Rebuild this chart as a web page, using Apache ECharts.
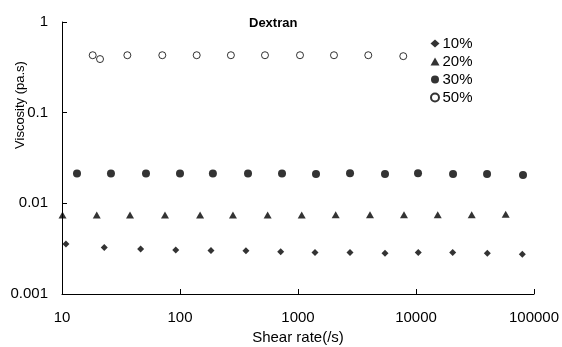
<!DOCTYPE html>
<html>
<head>
<meta charset="utf-8">
<script src="https://cdn.jsdelivr.net/npm/echarts@6/dist/echarts.min.js"></script>
<style>
  html, body { margin: 0; padding: 0; background: #fff; }
  #chart { width: 562px; height: 347px; }
</style>
</head>
<body>
<div id="chart"></div>
<script>
// Data
const seriesNames = ['10%', '20%', '30%', '50%'];

const shearRate10 = [10.8, 22.8, 46.4, 92, 183, 362, 713, 1393, 2760, 5460, 10450, 20470, 40200, 79600];
const visc10 = [0.00357, 0.00325, 0.00314, 0.00306, 0.00301, 0.00299, 0.00293, 0.00286, 0.00286, 0.00282, 0.00286, 0.00286, 0.00282, 0.00275];

const shearRate20 = [10.1, 19.7, 37.7, 74.6, 148, 281, 553, 1075, 2086, 4075, 7910, 15280, 29650, 57550];
const visc20 = [0.00745, 0.00745, 0.00745, 0.00745, 0.00745, 0.00745, 0.00745, 0.00745, 0.0075, 0.0075, 0.0075, 0.0075, 0.0075, 0.0076];

const shearRate30 = [13.4, 26.0, 51.5, 100, 190, 377, 732, 1421, 2760, 5460, 10400, 20600, 40000, 80700];
const visc30 = [0.0213, 0.0213, 0.0213, 0.0213, 0.0213, 0.0213, 0.0213, 0.0211, 0.0215, 0.0211, 0.0215, 0.0211, 0.0211, 0.0206];

const shearRate50 = [18.2, 21.0, 35.8, 70.8, 138.5, 270, 525, 1040, 2018, 3940, 7800];
const visc50 = [0.43, 0.39, 0.43, 0.43, 0.43, 0.43, 0.43, 0.43, 0.43, 0.43, 0.42];

const xTickLabels = ['10', '100', '1000', '10000', '100000'];
const yTickLabels = ['0.001', '0.01', '0.1', '1'];

const titleText = 'Dextran';
const xAxisTitle = 'Shear rate(/s)';
const yAxisTitle = 'Viscosity (pa.s)';

const FONT = '"Liberation Sans", Arial, sans-serif';

function pairs(xs, ys) { return xs.map((x, i) => [x, ys[i]]); }

function labelFor(list, minExp) {
  return function (value) {
    const e = Math.round(Math.log10(value)) - minExp;
    return list[e] !== undefined ? list[e] : '';
  };
}

const chart = echarts.init(document.getElementById('chart'), null, { renderer: 'canvas' });

chart.setOption({
  animation: false,
  backgroundColor: '#fff',
  textStyle: { fontFamily: FONT, color: '#000' },
  title: {
    text: titleText,
    left: 249,
    top: 17,
    padding: 0,
    textStyle: { fontFamily: FONT, fontSize: 13, fontWeight: 'bold', color: '#000' }
  },
  legend: {
    orient: 'vertical',
    left: 430,
    top: 36,
    padding: 0,
    itemGap: 3,
    itemWidth: 9,
    itemHeight: 8,
    textStyle: { fontFamily: FONT, fontSize: 15, color: '#000', padding: [0, 0, 0, -2] },
    data: seriesNames
  },
  grid: { left: 62, right: 28, top: 22, bottom: 53, containLabel: false, outerBoundsMode: 'none' },
  xAxis: {
    type: 'log',
    logBase: 10,
    min: 10,
    max: 100000,
    name: xAxisTitle,
    nameLocation: 'middle',
    nameGap: 35,
    nameTextStyle: { fontFamily: FONT, fontSize: 15, color: '#000' },
    axisLine: { show: true, lineStyle: { color: '#000', width: 1 } },
    axisTick: { show: true, inside: true, length: 5, lineStyle: { color: '#000' } },
    minorTick: { show: false },
    splitLine: { show: false },
    axisLabel: { fontFamily: FONT, fontSize: 15, color: '#000', margin: 16, formatter: labelFor(xTickLabels, 1) }
  },
  yAxis: {
    type: 'log',
    logBase: 10,
    min: 0.001,
    max: 1,
    axisLine: { show: true, lineStyle: { color: '#000', width: 1 } },
    axisTick: { show: true, inside: true, length: 5, lineStyle: { color: '#000' } },
    minorTick: { show: false },
    splitLine: { show: false },
    axisLabel: { fontFamily: FONT, fontSize: 15, color: '#000', margin: 14, formatter: labelFor(yTickLabels, -3) }
  },
  graphic: [{
    type: 'text',
    x: 20,
    y: 105,
    rotation: Math.PI / 2,
    style: {
      text: yAxisTitle,
      font: '13px ' + FONT,
      fill: '#000',
      align: 'center',
      verticalAlign: 'middle'
    }
  }],
  series: [
    {
      name: seriesNames[0], type: 'scatter', symbol: 'diamond', symbolSize: 7,
      itemStyle: { color: '#000' }, data: pairs(shearRate10, visc10)
    },
    {
      name: seriesNames[1], type: 'scatter', symbol: 'triangle', symbolSize: [8, 7],
      itemStyle: { color: '#000' }, data: pairs(shearRate20, visc20)
    },
    {
      name: seriesNames[2], type: 'scatter', symbol: 'circle', symbolSize: 8,
      itemStyle: { color: '#000' }, data: pairs(shearRate30, visc30)
    },
    {
      name: seriesNames[3], type: 'scatter', symbol: 'circle', symbolSize: 7,
      itemStyle: { color: '#fff', borderColor: '#000', borderWidth: 1 }, data: pairs(shearRate50, visc50)
    }
  ]
});
</script>
</body>
</html>
